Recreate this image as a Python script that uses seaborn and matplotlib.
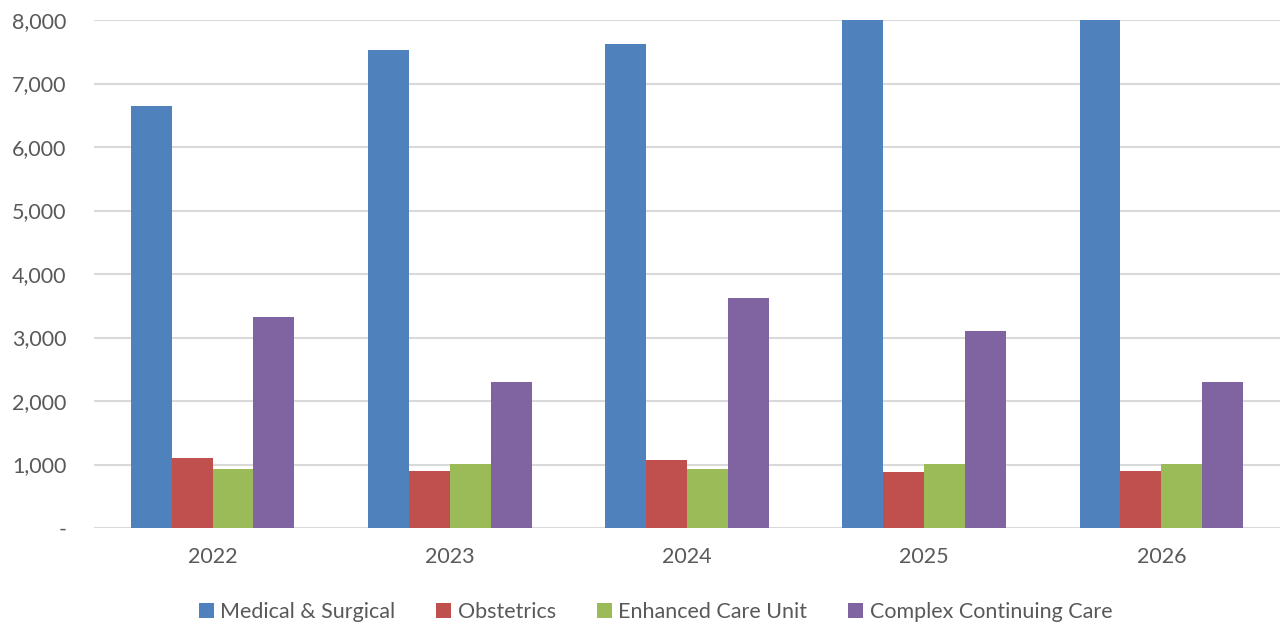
import matplotlib
matplotlib.use("Agg")
import matplotlib.pyplot as plt
import matplotlib.ticker as mticker
import seaborn as sns
import pandas as pd

years = ["2022", "2023", "2024", "2025", "2026"]
series = ["Medical & Surgical", "Obstetrics", "Enhanced Care Unit", "Complex Continuing Care"]
medical_surgical = [6650, 7530, 7620, 8250, 8400]
obstetrics = [1100, 900, 1070, 880, 900]
enhanced_care = [930, 1010, 930, 1010, 1010]
complex_care = [3320, 2300, 3620, 3100, 2300]
colors = ["#4F81BD", "#C0504D", "#9BBB59", "#8064A2"]

rows = []
for name, vals in zip(series, [medical_surgical, obstetrics, enhanced_care, complex_care]):
    for y, v in zip(years, vals):
        rows.append({"year": y, "series": name, "value": v})
df = pd.DataFrame(rows)

sns.set_theme(style="white")
plt.rcParams["font.family"] = ["Lato", "DejaVu Sans"]
text_color = "#595959"

fig = plt.figure(figsize=(12.8, 6.26), dpi=100)
ax = fig.add_axes([0.0734, 0.1565, 0.9266, 0.8115])

sns.barplot(data=df, x="year", y="value", hue="series", palette=colors,
            width=0.69, linewidth=0, saturation=1, errorbar=None, ax=ax)

ax.set_ylim(0, 8000)
ax.set_xlim(-0.5, 4.5)
ax.yaxis.set_major_locator(mticker.MultipleLocator(1000))
ax.yaxis.set_major_formatter(mticker.FuncFormatter(lambda v, p: "-" if v == 0 else f"{int(v):,}"))
ax.grid(axis="y", color="#D9D9D9", linewidth=1.5)
ax.set_axisbelow(True)
for s in ax.spines.values():
    s.set_visible(False)
ax.set_xlabel("")
ax.set_ylabel("")
ax.tick_params(axis="y", length=0, pad=20, labelsize=15.5, labelcolor=text_color)
ax.tick_params(axis="x", length=0, pad=14, labelsize=15.5, labelcolor=text_color)

ax.legend_.remove()
handles, labels = ax.get_legend_handles_labels()
fig.legend(handles, labels, loc="center", bbox_to_anchor=(0.512, 0.022), ncol=4,
           frameon=False, fontsize=15.5, labelcolor=text_color, handlelength=0.7,
           handleheight=0.7, handletextpad=0.3, columnspacing=1.9)

fig.savefig("out.png", dpi=100)
